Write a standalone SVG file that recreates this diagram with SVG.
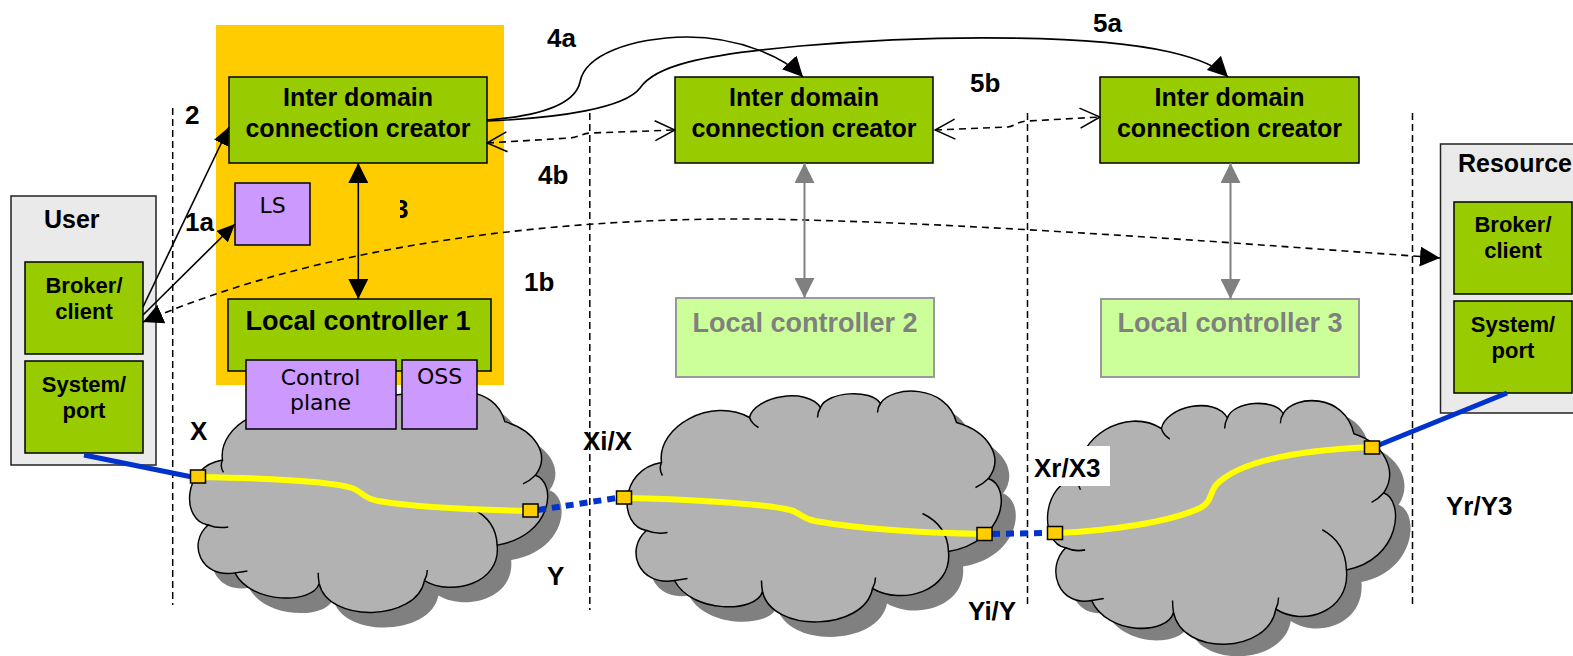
<svg xmlns="http://www.w3.org/2000/svg" width="1573" height="656" viewBox="0 0 1573 656">
<style>
.lbl{font-family:"Liberation Sans",Arial,sans-serif;font-weight:bold;font-size:26px;fill:#000}
.t25{font-family:"Liberation Sans",Arial,sans-serif;font-weight:bold;font-size:25px;fill:#000;text-anchor:middle}
.t22{font-family:"Liberation Sans",Arial,sans-serif;font-weight:bold;font-size:22px;fill:#000;text-anchor:middle}
.lc{font-family:"Liberation Sans",Arial,sans-serif;font-weight:bold;font-size:27px;text-anchor:middle}
.sm{font-family:"DejaVu Sans","Liberation Sans",sans-serif;font-size:22px;fill:#000;text-anchor:middle}
.green{fill:#99cc00;stroke:#000;stroke-width:1.5}
.lgreen{fill:#ccff99;stroke:#999;stroke-width:2}
.purple{fill:#cc99ff;stroke:#000;stroke-width:1.5}
.outer{fill:#eaeaea;stroke:#222;stroke-width:1.5}
.vdash{stroke:#000;stroke-width:1.5;stroke-dasharray:7 4;fill:none}
.cloud{fill:#b2b2b2;stroke:#000;stroke-width:1.5}
.shadow{fill:#808080;stroke:none}
.inner{fill:none;stroke:#000;stroke-width:1.5}
.yel{fill:none;stroke:#ffff00;stroke-width:6;stroke-linecap:round}
.blue{fill:none;stroke:#0033cc;stroke-width:5}
.bdot{fill:none;stroke:#0033cc;stroke-width:6;stroke-dasharray:8 6}
.port{fill:#ffcc00;stroke:#000;stroke-width:1.5}
.conn{fill:none;stroke:#000;stroke-width:1.6}
.dconn{fill:none;stroke:#000;stroke-width:1.6;stroke-dasharray:7 5}
.gconn{fill:none;stroke:#808080;stroke-width:2}
</style>
<defs>
<marker id="ah" viewBox="0 0 20 20" refX="20" refY="10" markerWidth="20" markerHeight="20" markerUnits="userSpaceOnUse" orient="auto-start-reverse"><path d="M0,0 L20,10 L0,20 z" fill="#000"/></marker>
<marker id="ahs" viewBox="0 0 18 16" refX="18" refY="8" markerWidth="18" markerHeight="16" markerUnits="userSpaceOnUse" orient="auto-start-reverse"><path d="M0,0 L18,8 L0,16 z" fill="#000"/></marker>
<marker id="ahg" viewBox="0 0 20 20" refX="20" refY="10" markerWidth="20" markerHeight="20" markerUnits="userSpaceOnUse" orient="auto-start-reverse"><path d="M0,0 L20,10 L0,20 z" fill="#808080"/></marker>
<marker id="aho" viewBox="0 0 22 22" refX="21" refY="11" markerWidth="22" markerHeight="22" markerUnits="userSpaceOnUse" orient="auto-start-reverse"><path d="M1,1 L21,11 L1,21" fill="none" stroke="#000" stroke-width="1.5"/></marker>
<path id="cloudShape" d="M20,139 C-8,135 -8,78 35,71 C30,35 85,5 123,26 C128,5 180,-5 194,16 C200,0 245,-3 254,12 C265,-6 320,-8 330,31 C362,40 378,66 362,87 C385,95 380,150 322,160 C326,200 275,214 246,197 C238,240 145,242 136,200 C130,222 65,222 48,189 C12,195 -2,158 20,139 Z"/>
<path id="cloudInner" d="M20,139 Q30,143 41,141 M35,71 Q32,78 36,84 M123,26 Q125,32 132,36 M194,16 Q191,21 191,26 M254,12 Q251,16 251,21 M362,87 Q356,93 349,96 M322,160 Q321,134 296,122 M246,197 Q249,192 249,186 M136,200 Q135,195 135,189 M48,189 Q55,188 61,187"/>
<clipPath id="clip3"><rect x="400" y="190" width="30" height="40"/></clipPath>
</defs>
<rect width="1573" height="656" fill="#fff"/>
<g id="domain1-area"><rect x="216" y="25" width="288" height="360" fill="#ffcc00"/></g>
<g id="boundaries">
<line class="vdash" x1="172.7" y1="108" x2="172.7" y2="605"/>
<line class="vdash" x1="589.8" y1="113" x2="589.8" y2="610"/>
<line class="vdash" x1="1027.5" y1="113" x2="1027.5" y2="608"/>
<line class="vdash" x1="1412.5" y1="113" x2="1412.5" y2="607"/>
</g>
<g id="cloud1">
<use href="#cloudShape" class="shadow" transform="translate(203,407) scale(0.957)"/>
<use href="#cloudShape" class="cloud" transform="translate(189,392) scale(0.957)"/>
<use href="#cloudInner" class="inner" transform="translate(189,392) scale(0.957)"/>
</g>
<g id="cloud2">
<use href="#cloudShape" class="shadow" transform="translate(641,406.5)"/>
<use href="#cloudShape" class="cloud" transform="translate(626.5,391.5)"/>
<use href="#cloudInner" class="inner" transform="translate(626.5,391.5)"/>
</g>
<g id="cloud3">
<use href="#cloudShape" class="shadow" transform="translate(1062,413) scale(0.93,1.056)"/>
<use href="#cloudShape" class="cloud" transform="translate(1047,401) scale(0.93,1.056)"/>
<use href="#cloudInner" class="inner" transform="translate(1047,401) scale(0.93,1.056)"/>
</g>
<g id="paths">
<path class="yel" d="M198,477 C260,478 330,481 352,488 C362,491 362,498 378,501 C420,508 480,510 531,511"/>
<path class="yel" d="M624,498 C680,499 760,503 790,510 C800,512 800,518 815,521 C860,529 930,533 985,534"/>
<path class="yel" d="M1055,533 C1110,531 1170,522 1200,508 C1212,502 1210,492 1216,485 C1240,460 1300,450 1372,447"/>
<line class="bdot" x1="538" y1="510" x2="617" y2="498"/>
<line class="bdot" x1="992" y1="534" x2="1048" y2="533"/>
</g>
<g id="user">
<rect class="outer" x="11" y="196" width="145" height="269"/>
<text class="lbl" x="44" y="228" style="font-size:25px">User</text>
</g>
<g id="user-broker">
<rect class="green" x="25" y="262" width="118" height="92"/>
<text class="t22" x="84" y="293">Broker/</text>
<text class="t22" x="84" y="319">client</text>
</g>
<g id="user-system">
<rect class="green" x="25" y="361" width="118" height="92"/>
<text class="t22" x="84" y="392">System/</text>
<text class="t22" x="84" y="418">port</text>
</g>
<g id="idcc1">
<rect class="green" x="229" y="77" width="258" height="86"/>
<text class="t25" x="358" y="106">Inter domain</text>
<text class="t25" x="358" y="137">connection creator</text>
</g>
<g id="ls">
<rect class="purple" x="235" y="183" width="75" height="62"/>
<text class="sm" x="272.5" y="213">LS</text>
</g>
<g id="lc1">
<rect class="green" x="228" y="299" width="263" height="72"/>
<text class="lc" x="358" y="330" fill="#000">Local controller 1</text>
</g>
<g id="control-plane">
<rect class="purple" x="246" y="360" width="150" height="69"/>
<text class="sm" x="320.5" y="385">Control</text>
<text class="sm" x="320.5" y="410">plane</text>
</g>
<g id="oss">
<rect class="purple" x="402" y="360" width="75" height="69"/>
<text class="sm" x="439.5" y="384">OSS</text>
</g>
<g id="idcc2">
<rect class="green" x="675" y="77" width="258" height="86"/>
<text class="t25" x="804" y="106">Inter domain</text>
<text class="t25" x="804" y="137">connection creator</text>
</g>
<g id="idcc3">
<rect class="green" x="1100" y="77" width="259" height="86"/>
<text class="t25" x="1229.5" y="106">Inter domain</text>
<text class="t25" x="1229.5" y="137">connection creator</text>
</g>
<g id="lc2">
<rect class="lgreen" x="676" y="298" width="258" height="79"/>
<text class="lc" x="805" y="332" fill="#808080">Local controller 2</text>
</g>
<g id="lc3">
<rect class="lgreen" x="1101" y="299" width="258" height="78"/>
<text class="lc" x="1230" y="332" fill="#808080">Local controller 3</text>
</g>
<g id="resource">
<rect class="outer" x="1440.5" y="144" width="140" height="269"/>
<text class="lbl" x="1458" y="172" style="font-size:25px">Resource</text>
</g>
<g id="resource-broker">
<rect class="green" x="1454" y="202" width="118" height="92"/>
<text class="t22" x="1513" y="232">Broker/</text>
<text class="t22" x="1513" y="258">client</text>
</g>
<g id="resource-system">
<rect class="green" x="1454" y="301" width="118" height="92"/>
<text class="t22" x="1513" y="332">System/</text>
<text class="t22" x="1513" y="358">port</text>
</g>
<g id="connectors">
<line class="conn" x1="143" y1="307" x2="229" y2="127" marker-end="url(#ahs)"/>
<line class="conn" x1="143" y1="315" x2="235" y2="224" marker-end="url(#ahs)"/>
<line class="conn" x1="358.3" y1="163" x2="358.3" y2="299" marker-start="url(#ah)" marker-end="url(#ah)"/>
<path class="dconn" d="M143,322 C350,232 620,214 805,220 C1000,225 1250,244 1440,258" marker-start="url(#ah)" marker-end="url(#ah)"/>
<path class="conn" d="M487,120 C540,116 575,105 580,82 C585,55 630,38 687,37 C740,37 785,58 803,77" marker-end="url(#ah)"/>
<path class="conn" d="M487,121 C560,118 625,108 640,88 C655,66 700,55 800,46 C950,33 1100,36 1170,52 C1200,59 1218,67 1228,77" marker-end="url(#ah)"/>
<path class="dconn" d="M487,143 L570,138 C580,137 582,133 592,133 L675,130" marker-start="url(#aho)" marker-end="url(#aho)"/>
<path class="dconn" d="M935,130 L1008,127 C1015,126 1018,121 1028,121 L1100,117" marker-start="url(#aho)" marker-end="url(#aho)"/>
<line class="gconn" x1="804.5" y1="163" x2="804.5" y2="298" marker-start="url(#ahg)" marker-end="url(#ahg)"/>
<line class="gconn" x1="1230.5" y1="163" x2="1230.5" y2="299" marker-start="url(#ahg)" marker-end="url(#ahg)"/>
</g>
<g id="access-links">
<line class="blue" x1="84" y1="455" x2="192" y2="477"/>
<line class="blue" x1="1379" y1="445" x2="1507" y2="393"/>
</g>
<g id="ports">
<rect class="port" x="190.5" y="470" width="15" height="13"/>
<rect class="port" x="523" y="504" width="15" height="13"/>
<rect class="port" x="616.5" y="491" width="15" height="13"/>
<rect class="port" x="977" y="527.5" width="15" height="13"/>
<rect class="port" x="1047.5" y="526.5" width="15" height="13"/>
<rect class="port" x="1364.5" y="441" width="15" height="13"/>
</g>
<g id="labels">
<text class="lbl" x="185" y="124">2</text>
<text class="lbl" x="185" y="231">1a</text>
<text class="lbl" x="394" y="218" clip-path="url(#clip3)">3</text>
<text class="lbl" x="524" y="291">1b</text>
<text class="lbl" x="547" y="47">4a</text>
<text class="lbl" x="538" y="184">4b</text>
<text class="lbl" x="1093" y="32">5a</text>
<text class="lbl" x="970" y="92">5b</text>
<text class="lbl" x="190" y="440">X</text>
<text class="lbl" x="547" y="585">Y</text>
<text class="lbl" x="583" y="450">Xi/X</text>
<text class="lbl" x="968" y="620">Yi/Y</text>
<rect x="1030.5" y="446" width="79.5" height="40" fill="#fff"/>
<text class="lbl" x="1034" y="477">Xr/X3</text>
<text class="lbl" x="1446" y="515">Yr/Y3</text>
</g>
</svg>
